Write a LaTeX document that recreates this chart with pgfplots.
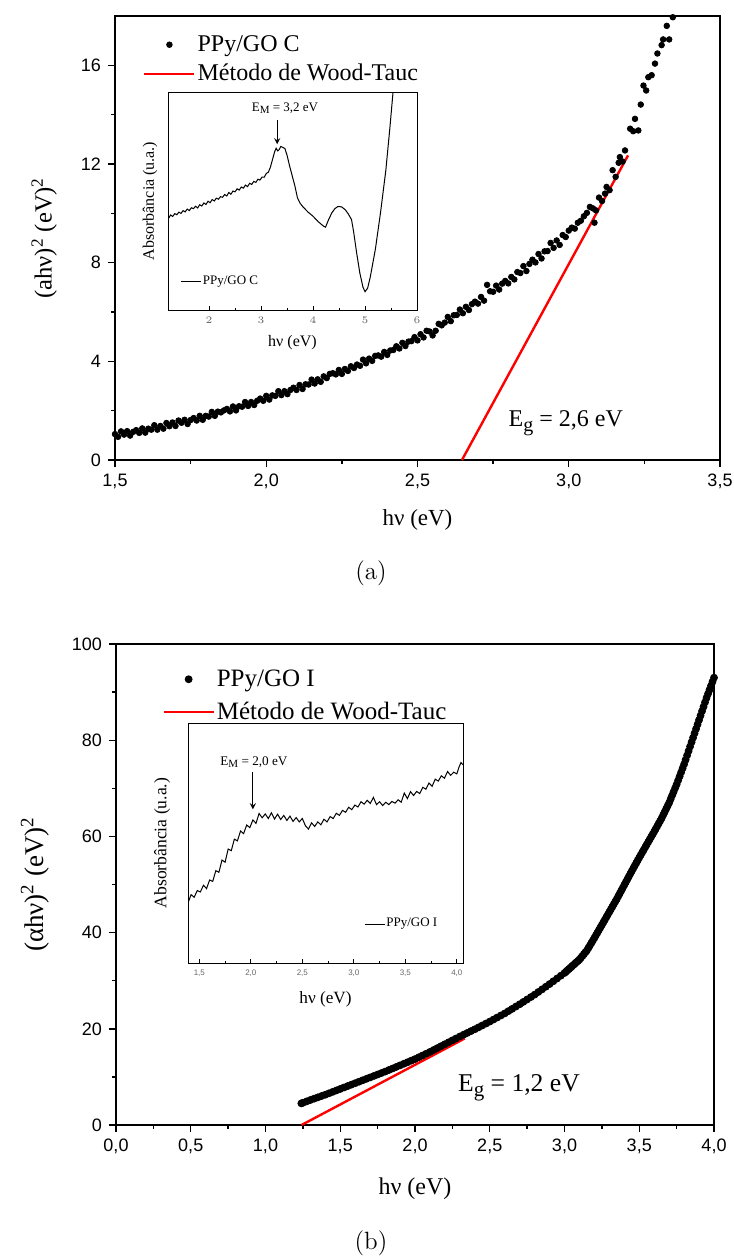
\documentclass[border=0pt]{standalone}
\usepackage{fontspec}
\usepackage{pgfplots}
\pgfplotsset{compat=1.18}
\newfontfamily\tnr{Liberation Serif}
\newfontfamily\arial{Liberation Sans}
\newcommand{\fs}[1]{\fontsize{#1}{#1}\selectfont}
\newcommand{\sub}[2]{\raisebox{-0.4ex}{\fs{#1}#2}}
\pgfplotsset{
  dotleg/.style={legend image code/.code={\draw[mark repeat=2,mark phase=2,##1] plot coordinates {(0pt,0pt) (12.5pt,0pt) (25pt,0pt)};}},
  lineleg/.style={legend image code/.code={\draw[##1] (0pt,0pt)--(25pt,0pt);}},
  mainax/.style={
    scale only axis,
    axis line style={line width=0.8pt},
    tick style={black, line width=0.7pt},
    major tick length=3.5pt, minor tick length=2pt,
    tick align=outside, tick pos=left,
    tick label style={font=\arial\fs{9}},
    /pgf/number format/assume math mode=true,
    legend style={draw=none, fill=none, inner sep=0pt, nodes={inner sep=1pt}},
    legend cell align=left,
  },
  inax/.style={
    scale only axis,
    axis background/.style={fill=white},
    axis line style={line width=0.5pt},
    tick style={black, line width=0.4pt},
    major tick length=2pt, minor tick length=1.2pt,
    tick align=inside, tick pos=left, ytick=\empty,
    tick label style={font=\arial\fs{4}, text=black!60},
    ymin=0, ymax=100,
    legend style={draw=none, fill=none, inner sep=0pt, nodes={inner sep=0.5pt}},
    legend cell align=left,
    legend image code/.code={\draw[##1] (0pt,0pt)--(10pt,0pt);},
  },
}
\begin{document}
\begin{tikzpicture}
\useasboundingbox (0,0) rectangle (366.5pt,-628.5pt);
% ---------------- (a) main ----------------
\begin{axis}[mainax, at={(57.5pt,-230pt)}, anchor=south west,
  width=302.5pt, height=222pt,
  xmin=1.5, xmax=3.5, ymin=0, ymax=18,
  xtick={1.5,2,2.5,3,3.5}, xticklabels={{1,5},{2,0},{2,5},{3,0},{3,5}},
  minor x tick num=1,
  ytick={0,4,8,12,16}, minor y tick num=1,
  xlabel={hν (eV)}, ylabel={(ahν)\textsuperscript{2} (eV)\textsuperscript{2}},
  every axis x label/.style={at={(axis description cs:0.5,-0.135)}, anchor=center, font=\tnr\fs{11.5}},
  every axis y label/.style={at={(axis description cs:-0.117,0.5)}, rotate=90, anchor=center, font=\tnr\fs{12.3}},
  legend style={at={(0.046,0.962)}, anchor=north west, font=\tnr\fs{12}, row sep=3pt},
]
\addplot[only marks, mark=*, mark size=1.4pt, black, dotleg]
coordinates {
(1.50,1.05)(1.51,0.94)(1.52,1.16)(1.53,1.03)(1.54,1.17)(1.55,0.99)(1.56,1.14)(1.57,1.21)(1.58,1.10)(1.59,1.28)
(1.60,1.11)(1.61,1.27)(1.62,1.23)(1.63,1.41)(1.64,1.23)(1.65,1.38)(1.66,1.27)(1.67,1.50)(1.68,1.37)(1.69,1.52)
(1.70,1.38)(1.71,1.60)(1.72,1.51)(1.73,1.63)(1.74,1.46)(1.75,1.62)(1.76,1.70)(1.77,1.60)(1.78,1.79)(1.79,1.63)
(1.80,1.79)(1.81,1.76)(1.82,1.95)(1.83,1.79)(1.84,1.96)(1.85,1.93)(1.86,2.01)(1.87,2.07)(1.88,1.97)(1.89,2.17)
(1.90,2.01)(1.91,2.18)(1.92,2.16)(1.93,2.35)(1.94,2.19)(1.95,2.35)(1.96,2.23)(1.97,2.40)(1.98,2.49)(1.99,2.40)
(2.00,2.60)(2.01,2.45)(2.02,2.62)(2.03,2.60)(2.04,2.79)(2.05,2.63)(2.06,2.79)(2.07,2.67)(2.08,2.84)(2.09,2.93)
(2.10,2.84)(2.11,3.04)(2.12,2.88)(2.13,3.07)(2.14,3.06)(2.15,3.26)(2.16,3.10)(2.17,3.27)(2.18,3.17)(2.19,3.39)
(2.20,3.32)(2.21,3.49)(2.22,3.52)(2.23,3.47)(2.24,3.65)(2.25,3.49)(2.26,3.69)(2.27,3.61)(2.28,3.80)(2.29,3.73)
(2.30,3.87)(2.31,3.82)(2.32,4.07)(2.33,3.92)(2.34,4.11)(2.35,4.02)(2.36,4.22)(2.37,4.24)(2.38,4.19)(2.39,4.38)
(2.40,4.26)(2.41,4.44)(2.42,4.46)(2.43,4.61)(2.44,4.52)(2.45,4.75)(2.46,4.62)(2.47,4.80)(2.48,4.82)(2.49,4.98)
(2.50,4.85)(2.51,5.10)(2.52,4.97)(2.53,5.24)(2.54,5.21)(2.55,5.05)(2.56,5.24)(2.57,5.52)(2.58,5.46)(2.59,5.57)
(2.60,5.80)(2.61,5.63)(2.62,5.87)(2.63,5.88)(2.64,6.10)(2.65,5.95)(2.66,6.21)(2.67,6.08)(2.68,6.32)(2.69,6.42)
(2.70,6.34)(2.71,6.61)(2.72,6.46)(2.73,7.10)(2.74,6.84)(2.75,6.82)(2.76,7.07)(2.77,6.91)(2.78,7.15)(2.79,7.26)
(2.80,7.16)(2.81,7.42)(2.82,7.32)(2.83,7.62)(2.84,7.58)(2.85,7.86)(2.86,7.66)(2.87,7.95)(2.88,8.12)(2.89,8.01)
(2.90,8.35)(2.91,8.17)(2.92,8.46)(2.93,8.47)(2.94,8.80)(2.95,8.60)(2.96,8.90)(2.97,8.72)(2.98,9.12)(2.99,9.04)
(3.00,9.30)(3.01,9.42)(3.02,9.38)(3.03,9.62)(3.04,9.70)(3.05,9.88)(3.06,10.02)(3.07,10.26)(3.08,10.20)(3.085,9.62)
(3.09,10.12)(3.10,10.64)(3.11,10.50)(3.12,10.80)(3.125,11.07)(3.135,10.94)(3.145,11.75)(3.155,11.48)(3.165,12.05)(3.169,12.28)
(3.178,12.10)(3.186,12.55)(3.203,13.43)(3.213,13.33)(3.219,13.83)(3.230,13.36)(3.238,14.41)(3.247,15.18)(3.256,14.98)(3.263,15.52)
(3.274,15.60)(3.285,16.07)(3.293,16.48)(3.307,16.82)(3.312,17.05)(3.324,17.60)(3.332,17.05)(3.344,17.95)
};
\addlegendentry{PPy/GO C}
\addplot[red, line width=1.2pt, lineleg]
coordinates {(2.647,0) (3.196,12.35)};
\addlegendentry{Método de Wood-Tauc}
\node[anchor=base west, font=\tnr\fs{12}, inner sep=0pt] at (axis cs:2.80,1.35) {E\sub{10}{g} = 2,6 eV};
\end{axis}
% ---------------- (a) inset ----------------
\begin{axis}[inax, at={(84pt,-155pt)}, anchor=south west,
  width=124.5pt, height=109pt,
  xmin=1.21, xmax=6, xtick={2,3,4,5,6}, minor x tick num=1,
  xlabel={hν (eV)}, ylabel={Absorbância (u.a.)},
  every axis x label/.style={at={(axis description cs:0.5,-0.151)}, anchor=center, font=\tnr\fs{8}},
  every axis y label/.style={at={(axis description cs:-0.072,0.5)}, rotate=90, anchor=center, font=\tnr\fs{8}},
  legend style={at={(0.05,0.13)}, anchor=west, font=\tnr\fs{6.5}},
]
\addplot[black, line width=0.5pt] coordinates {
(1.22,42.0)(1.26,43.6)(1.30,42.9)(1.34,44.2)(1.38,43.7)(1.42,44.9)(1.46,44.3)(1.50,45.6)(1.54,45.0)(1.58,46.3)
(1.62,45.6)(1.66,46.9)(1.70,46.5)(1.74,47.6)(1.78,46.8)(1.82,48.3)(1.86,47.7)(1.90,49.1)(1.94,48.4)(1.98,49.9)
(2.02,49.2)(2.06,50.7)(2.10,50.0)(2.14,51.3)(2.18,50.8)(2.22,52.0)(2.26,51.7)(2.30,53.0)(2.34,52.3)(2.38,53.9)
(2.42,53.1)(2.46,54.6)(2.50,54.2)(2.54,55.6)(2.58,55.0)(2.62,56.4)(2.66,55.9)(2.70,57.3)(2.74,56.6)(2.78,58.1)
(2.82,57.6)(2.86,59.0)(2.90,58.5)(2.94,60.0)(2.98,59.6)(3.02,61.0)(3.06,60.9)(3.10,62.6)(3.14,63.2)(3.18,65.5)
(3.22,69.0)(3.26,72.5)(3.29,74.2)(3.32,73.0)(3.35,73.6)(3.38,75.0)(3.42,74.6)(3.46,74.0)(3.50,71.0)(3.55,66.0)
(3.60,61.5)(3.65,57.0)(3.70,51.5)(3.75,49.0)(3.80,47.5)(3.90,45.0)(4.00,43.0)(4.10,40.5)(4.20,38.5)(4.24,38.0)
(4.30,41.5)(4.36,44.5)(4.42,46.5)(4.48,47.5)(4.55,47.3)(4.62,46.0)(4.68,44.0)(4.74,41.5)(4.78,36.0)(4.84,26.0)
(4.90,17.0)(4.96,10.5)(5.00,8.4)(5.05,10.0)(5.10,15.0)(5.20,28.0)(5.30,45.0)(5.40,64.0)(5.48,84.0)(5.55,103.0)
};
\addlegendentry{PPy/GO C}
\node[font=\tnr\fs{6.5}] at (axis cs:3.46,92.6) {E\sub{5.5}{M} = 3,2 eV};
\draw[-stealth, line width=0.4pt] (axis cs:3.31,87) -- (axis cs:3.31,76);
\end{axis}
\node[font=\fs{12.5}] at (185.5pt,-286.5pt) {(a)};
% ---------------- (b) main ----------------
\begin{axis}[mainax, at={(58pt,-562.5pt)}, anchor=south west,
  width=299pt, height=240.5pt,
  xmin=0, xmax=4, ymin=0, ymax=100,
  xtick={0,0.5,1,1.5,2,2.5,3,3.5,4},
  xticklabels={{0,0},{0,5},{1,0},{1,5},{2,0},{2,5},{3,0},{3,5},{4,0}},
  minor x tick num=1,
  ytick={0,20,40,60,80,100}, minor y tick num=1,
  xlabel={hν (eV)}, ylabel={(αhν)\textsuperscript{2} (eV)\textsuperscript{2}},
  every axis x label/.style={at={(axis description cs:0.5,-0.133)}, anchor=center, font=\tnr\fs{12}},
  every axis y label/.style={at={(axis description cs:-0.135,0.5)}, rotate=90, anchor=center, font=\tnr\fs{13.5}},
  legend style={at={(0.077,0.952)}, anchor=north west, font=\tnr\fs{12.5}, row sep=4.5pt},
]
\addplot[only marks, mark=*, mark size=1.75pt, black, dotleg]
coordinates {
(1.240,4.50)(1.250,4.62)(1.275,4.91)(1.300,5.20)(1.325,5.48)(1.350,5.75)(1.375,6.03)(1.400,6.30)(1.425,6.60)(1.450,6.90)
(1.475,7.20)(1.500,7.50)(1.525,7.80)(1.550,8.10)(1.575,8.40)(1.600,8.70)(1.625,9.00)(1.650,9.30)(1.675,9.60)(1.700,9.90)
(1.725,10.20)(1.750,10.50)(1.775,10.80)(1.800,11.10)(1.825,11.43)(1.850,11.75)(1.875,12.08)(1.900,12.40)(1.925,12.73)(1.950,13.05)
(1.975,13.38)(2.000,13.70)(2.025,14.08)(2.050,14.45)(2.075,14.83)(2.100,15.20)(2.125,15.60)(2.150,16.00)(2.175,16.40)(2.200,16.80)
(2.225,17.20)(2.250,17.60)(2.275,18.00)(2.300,18.40)(2.325,18.78)(2.350,19.15)(2.375,19.53)(2.400,19.90)(2.425,20.30)(2.450,20.70)
(2.475,21.10)(2.500,21.50)(2.525,21.93)(2.550,22.35)(2.575,22.78)(2.600,23.20)(2.625,23.68)(2.650,24.15)(2.675,24.63)(2.700,25.10)
(2.725,25.60)(2.750,26.10)(2.775,26.60)(2.800,27.10)(2.825,27.65)(2.850,28.20)(2.875,28.75)(2.900,29.30)(2.925,29.88)(2.950,30.45)
(2.975,31.03)(3.000,31.60)(3.01,31.88)(3.02,32.16)(3.03,32.44)(3.04,32.72)(3.05,33.00)(3.06,33.28)(3.07,33.56)(3.08,33.84)
(3.09,34.12)(3.10,34.40)(3.11,34.78)(3.12,35.16)(3.13,35.54)(3.14,35.92)(3.15,36.30)(3.16,36.82)(3.17,37.34)(3.18,37.86)
(3.19,38.38)(3.20,38.90)(3.21,39.44)(3.22,39.98)(3.23,40.52)(3.24,41.06)(3.25,41.60)(3.26,42.14)(3.27,42.68)(3.28,43.22)
(3.29,43.76)(3.30,44.30)(3.31,44.84)(3.32,45.38)(3.33,45.92)(3.34,46.46)(3.35,47.00)(3.36,47.58)(3.37,48.16)(3.38,48.74)
(3.39,49.32)(3.40,49.90)(3.41,50.48)(3.42,51.06)(3.43,51.64)(3.44,52.22)(3.45,52.80)(3.46,53.36)(3.47,53.92)(3.48,54.48)
(3.49,55.04)(3.50,55.60)(3.51,56.14)(3.52,56.68)(3.53,57.22)(3.54,57.76)(3.55,58.30)(3.56,58.84)(3.57,59.38)(3.58,59.92)
(3.59,60.46)(3.60,61.00)(3.61,61.56)(3.62,62.12)(3.63,62.68)(3.64,63.24)(3.65,63.80)(3.66,64.44)(3.67,65.08)(3.68,65.72)
(3.69,66.36)(3.70,67.00)(3.71,67.76)(3.72,68.52)(3.73,69.28)(3.74,70.04)(3.75,70.80)(3.76,71.64)(3.77,72.48)(3.78,73.32)
(3.79,74.16)(3.80,75.00)(3.81,75.92)(3.82,76.84)(3.83,77.76)(3.84,78.68)(3.85,79.60)(3.86,80.52)(3.87,81.44)(3.88,82.36)
(3.89,83.28)(3.90,84.20)(3.91,85.12)(3.92,86.04)(3.93,86.96)(3.94,87.88)(3.95,88.80)(3.96,89.64)(3.97,90.48)(3.98,91.32)
(3.99,92.16)(4.00,93.00)
};
\addlegendentry{PPy/GO I}
\addplot[red, line width=1.2pt, lineleg]
coordinates {(1.241,0) (2.333,18.0)};
\addlegendentry{Método de Wood-Tauc}
\node[anchor=base west, font=\tnr\fs{12.8}, inner sep=0pt] at (axis cs:2.286,6.9) {E\sub{10.5}{g} = 1,2 eV};
\end{axis}
% ---------------- (b) inset ----------------
\begin{axis}[inax, at={(94pt,-481.5pt)}, anchor=south west,
  width=137.5pt, height=120pt,
  xmin=1.39, xmax=4.06, xtick={1.5,2,2.5,3,3.5,4},
  xticklabels={{1,5},{2,0},{2,5},{3,0},{3,5},{4,0}}, minor x tick num=1,
  xlabel={hν (eV)}, ylabel={Absorbância (u.a.)},
  every axis x label/.style={at={(axis description cs:0.5,-0.15)}, anchor=center, font=\tnr\fs{8.6}},
  every axis y label/.style={at={(axis description cs:-0.0945,0.5)}, rotate=90, anchor=center, font=\tnr\fs{8.8}},
  legend style={at={(0.64,0.162)}, anchor=west, font=\tnr\fs{6.5}},
]
\addplot[black, line width=0.5pt] coordinates {
(1.39,25.0)(1.42,28.5)(1.45,27.4)(1.48,30.2)(1.51,29.6)(1.54,32.4)(1.57,31.0)(1.60,34.6)(1.63,34.0)(1.66,38.5)
(1.69,37.8)(1.72,42.9)(1.75,42.0)(1.78,47.5)(1.81,46.8)(1.84,51.6)(1.87,50.9)(1.90,55.0)(1.93,53.9)(1.96,57.5)
(1.99,56.4)(2.02,59.6)(2.05,58.2)(2.08,62.3)(2.11,60.5)(2.14,62.1)(2.17,60.2)(2.20,62.6)(2.23,60.0)(2.26,62.0)
(2.29,59.8)(2.32,61.5)(2.35,59.4)(2.38,61.2)(2.41,59.0)(2.44,60.6)(2.47,58.8)(2.50,60.2)(2.53,57.2)(2.56,55.8)
(2.59,58.4)(2.62,56.9)(2.65,58.8)(2.68,57.6)(2.71,59.9)(2.74,58.8)(2.77,61.0)(2.80,60.2)(2.83,62.4)(2.86,61.5)
(2.89,63.6)(2.92,62.8)(2.95,64.9)(2.98,63.9)(3.01,65.8)(3.04,65.0)(3.07,67.2)(3.10,66.2)(3.13,67.8)(3.16,66.5)
(3.19,69.0)(3.22,66.0)(3.25,67.2)(3.28,65.6)(3.31,67.0)(3.34,66.0)(3.37,67.3)(3.40,66.6)(3.43,68.0)(3.46,67.0)
(3.49,70.8)(3.52,68.5)(3.55,71.4)(3.58,69.8)(3.61,71.5)(3.64,70.6)(3.67,73.2)(3.70,72.4)(3.73,75.0)(3.76,73.6)
(3.79,76.6)(3.82,75.8)(3.85,78.0)(3.88,77.0)(3.91,79.8)(3.94,78.2)(3.97,79.5)(4.00,78.8)(4.02,81.5)(4.04,83.5)(4.06,82.6)
};
\addlegendentry{PPy/GO I}
\node[font=\tnr\fs{6.6}] at (axis cs:2.03,83.6) {E\sub{5.5}{M} = 2,0 eV};
\draw[-stealth, line width=0.4pt] (axis cs:2.02,79.5) -- (axis cs:2.02,64);
\end{axis}
\node[font=\fs{12.5}] at (185.5pt,-621.5pt) {(b)};
\end{tikzpicture}
\end{document}
